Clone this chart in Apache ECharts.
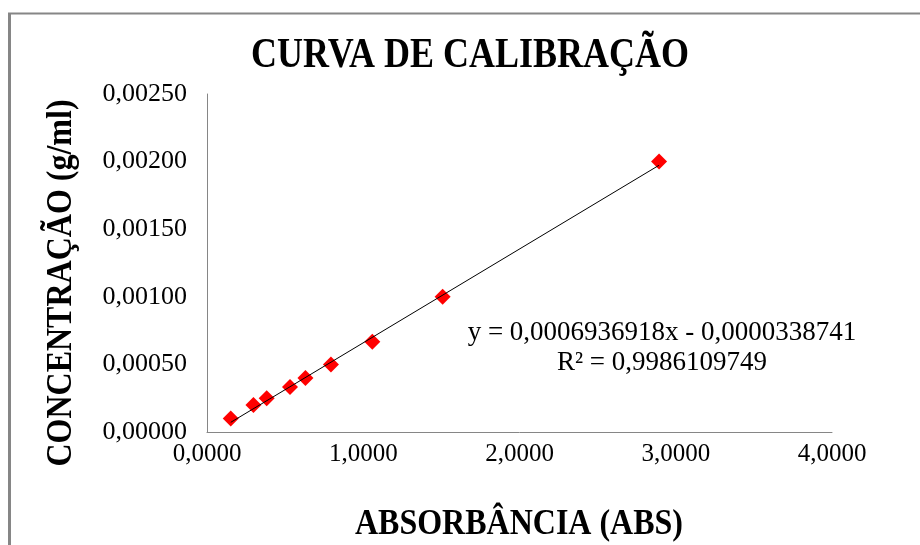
<!DOCTYPE html>
<html>
<head>
<meta charset="utf-8">
<script src="https://cdn.jsdelivr.net/npm/echarts@6/dist/echarts.min.js"></script>
<style>html,body{margin:0;padding:0;background:#fff}#c{width:920px;height:545px}</style>
</head>
<body>
<div id="c"></div>
<script>
var title = 'CURVA DE CALIBRAÇÃO';
var xName = 'ABSORBÂNCIA (ABS)';
var yName = 'CONCENTRAÇÃO (g/ml)';
var absorbance = [0.152, 0.297, 0.382, 0.531, 0.630, 0.793, 1.058, 1.508, 2.893];
var concentration = [0.0001, 0.0002, 0.00025, 0.000333, 0.0004, 0.0005, 0.000667, 0.001, 0.002];
var trendX = [0.152, 2.893];
var trendY = [0.0000716, 0.001973];
var eqText = 'y = 0,0006936918x - 0,0000338741';
var r2Text = 'R² = 0,9986109749';
var xTicks = [0, 1, 2, 3, 4];
var yTicks = [0, 0.0005, 0.001, 0.0015, 0.002, 0.0025];

var serif = '"Liberation Serif", "DejaVu Serif", serif';
var chart = echarts.init(document.getElementById('c'));
var pts = absorbance.map(function (x, i) { return [x, concentration[i]]; });
var trend = trendX.map(function (x, i) { return [x, trendY[i]]; });
chart.setOption({
  animation: false,
  backgroundColor: '#fff',
  grid: { left: 207, right: 88, top: 94, bottom: 113 },
  xAxis: {
    type: 'value', min: xTicks[0], max: xTicks[xTicks.length - 1], interval: 1,
    axisLine: { lineStyle: { color: '#868686', width: 1 } },
    axisTick: { show: false }, splitLine: { show: false },
    axisLabel: { margin: 10, fontFamily: serif, fontSize: 25, color: '#000',
      formatter: function (v) { return v.toFixed(4).replace('.', ','); } }
  },
  yAxis: {
    type: 'value', min: yTicks[0], max: yTicks[yTicks.length - 1], interval: 0.0005,
    axisLine: { show: true, lineStyle: { color: '#868686', width: 1 } },
    axisTick: { show: false }, splitLine: { show: false },
    axisLabel: { margin: 20, fontFamily: serif, fontSize: 26, color: '#000',
      formatter: function (v) { return v.toFixed(5).replace('.', ','); } }
  },
  series: [
    { type: 'line', data: trend, symbol: 'none', lineStyle: { color: '#000', width: 1 }, z: 3 },
    { type: 'scatter', data: pts, symbol: 'diamond', symbolSize: 16,
      itemStyle: { color: '#ff0000', opacity: 1 }, z: 2 }
  ],
  graphic: [
    { type: 'line', shape: { x1: 8, y1: 13.5, x2: 920, y2: 13.5 }, style: { stroke: '#868686', lineWidth: 2 } },
    { type: 'line', shape: { x1: 9.5, y1: 13, x2: 9.5, y2: 545 }, style: { stroke: '#868686', lineWidth: 3 } },
    { type: 'text', x: 470, y: 56, scaleY: 1.2,
      style: { text: title, fontFamily: serif, fontWeight: 'bold', fontSize: 36, fill: '#000', textAlign: 'center', textVerticalAlign: 'middle' } },
    { type: 'text', x: 519, y: 525, scaleY: 1.1,
      style: { text: xName, fontFamily: serif, fontWeight: 'bold', fontSize: 32, fill: '#000', textAlign: 'center', textVerticalAlign: 'middle' } },
    { type: 'text', x: 62, y: 283, rotation: Math.PI / 2, scaleY: 1.1,
      style: { text: yName, fontFamily: serif, fontWeight: 'bold', fontSize: 32, fill: '#000', textAlign: 'center', textVerticalAlign: 'middle' } },
    { type: 'text', x: 662, y: 333,
      style: { text: eqText, fontFamily: serif, fontSize: 27, fill: '#000', textAlign: 'center', textVerticalAlign: 'middle' } },
    { type: 'text', x: 662, y: 363,
      style: { text: r2Text, fontFamily: serif, fontSize: 27, fill: '#000', textAlign: 'center', textVerticalAlign: 'middle' } }
  ]
});
</script>
</body>
</html>
